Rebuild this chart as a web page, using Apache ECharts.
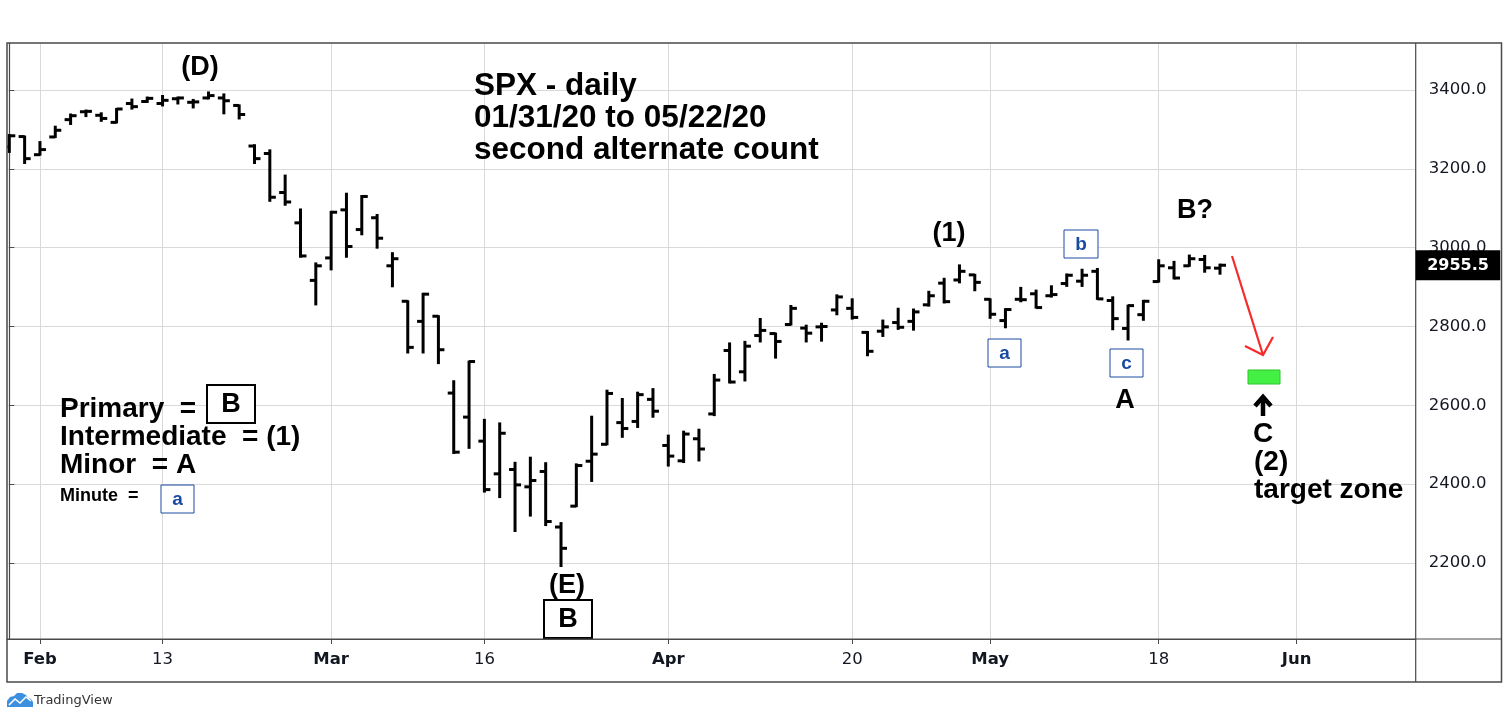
<!DOCTYPE html>
<html>
<head>
<meta charset="utf-8">
<script src="https://cdn.jsdelivr.net/npm/echarts@6/dist/echarts.min.js"></script>
<style>
html,body{margin:0;padding:0;background:#fff;}
#main{width:1508px;height:719px;}
</style>
</head>
<body>
<div id="main"></div>
<script type="text/javascript">
// trading days, index 0 = Jan 30
var dates = ['01/30','01/31','02/03','02/04','02/05','02/06','02/07','02/10','02/11','02/12','02/13','02/14',
  '02/18','02/19','02/20','02/21','02/24','02/25','02/26','02/27','02/28','03/02','03/03','03/04','03/05','03/06',
  '03/09','03/10','03/11','03/12','03/13','03/16','03/17','03/18','03/19','03/20','03/23','03/24','03/25','03/26',
  '03/27','03/30','03/31','04/01','04/02','04/03','04/06','04/07','04/08','04/09','04/13','04/14','04/15','04/16',
  '04/17','04/20','04/21','04/22','04/23','04/24','04/27','04/28','04/29','04/30','05/01','05/04','05/05','05/06',
  '05/07','05/08','05/11','05/12','05/13','05/14','05/15','05/18','05/19','05/20','05/21','05/22'];
var opens = [3256,3282,3236,3281,3325,3345,3336,3318,3366,3371,3366,3378,
  3369,3380,3380,3361,3258,3239,3140,3063,2917,2974,3096,3046,3076,2954,
  2864,2813,2826,2631,2570,2509,2426,2437,2393,2432,2291,2344,2458,2501,
  2556,2559,2615,2498,2459,2515,2578,2739,2685,2777,2782,2805,2796,2799,
  2842,2846,2785,2788,2810,2813,2855,2910,2918,2931,2869,2815,2869,2883,
  2878,2909,2915,2940,2866,2795,2830,2914,2949,2954,2970,2948];
var highs = [3286,3282,3268,3307,3338,3348,3341,3352,3376,3381,3385,3381,
  3375,3394,3389,3361,3260,3247,3183,3097,2960,3091,3137,3131,3083,2986,
  2864,2883,2826,2661,2711,2563,2554,2454,2467,2453,2301,2450,2571,2637,
  2616,2632,2641,2523,2533,2538,2677,2757,2761,2819,2782,2852,2802,2807,
  2879,2869,2786,2815,2845,2843,2888,2921,2955,2931,2869,2844,2898,2891,
  2902,2932,2944,2946,2874,2853,2865,2968,2964,2980,2979,2957];
var lows = [3243,3215,3236,3281,3314,3334,3322,3318,3353,3370,3361,3366,
  3356,3379,3341,3328,3215,3119,3109,2977,2856,2945,2977,3034,3000,2902,
  2734,2734,2707,2479,2492,2381,2367,2281,2320,2296,2192,2344,2408,2501,
  2520,2545,2571,2447,2456,2460,2575,2658,2663,2762,2721,2805,2762,2764,
  2831,2820,2727,2776,2794,2792,2853,2861,2912,2892,2822,2798,2864,2848,
  2876,2903,2903,2870,2793,2767,2817,2914,2922,2954,2939,2934];
var closes = [3284,3226,3249,3298,3335,3346,3328,3352,3358,3379,3374,3380,
  3370,3386,3373,3338,3226,3128,3116,2979,2954,3090,3003,3130,3024,2972,
  2747,2882,2741,2481,2711,2386,2529,2398,2409,2305,2237,2447,2476,2630,
  2541,2627,2585,2471,2527,2489,2664,2659,2750,2790,2762,2846,2783,2800,
  2875,2823,2737,2799,2798,2837,2878,2863,2940,2912,2831,2843,2868,2848,
  2881,2930,2930,2870,2820,2853,2864,2954,2923,2972,2949,2955.45];
var lastPrice = 2955.5;

// axis ticks
var xTickIdx = [2, 10, 21, 31, 43, 55, 64, 75, 84];
var xTickLabels = ['Feb', '13', 'Mar', '16', 'Apr', '20', 'May', '18', 'Jun'];
var monthNames = ['Feb', 'Mar', 'Apr', 'May', 'Jun'];
var yTicks = [2200, 2400, 2600, 2800, 3000, 3200, 3400];

var ohlc = [];
for (var i = 0; i < dates.length; i++) {
  ohlc.push([i, opens[i], highs[i], lows[i], closes[i]]);
}

function renderOHLC(params, api) {
  var x = api.value(0);
  var o = api.coord([x, api.value(1)]);
  var h = api.coord([x, api.value(2)]);
  var l = api.coord([x, api.value(3)]);
  var c = api.coord([x, api.value(4)]);
  var st = {stroke: '#000', lineWidth: 3};
  return {
    type: 'group',
    children: [
      {type: 'line', shape: {x1: h[0], y1: h[1] - 1, x2: l[0], y2: l[1] + 1}, style: st},
      {type: 'line', shape: {x1: o[0] - 6, y1: o[1], x2: o[0], y2: o[1]}, style: st},
      {type: 'line', shape: {x1: c[0], y1: c[1], x2: c[0] + 6, y2: c[1]}, style: st}
    ]
  };
}

var bold = 'Liberation Sans';
function txt(s, x, y, size, align, color) {
  return {type: 'text', x: x, y: y, z: 50,
    style: {text: s, font: 'bold ' + size + 'px "' + bold + '"', fill: color || '#000',
      align: align || 'left', verticalAlign: 'middle'}};
}
function boxTxt(s, x1, y1, x2, y2, size, color, lw) {
  return [
    {type: 'rect', z: 49, shape: {x: x1, y: y1, width: x2 - x1, height: y2 - y1},
      style: {fill: '#fff', stroke: color, lineWidth: lw}},
    txt(s, (x1 + x2) / 2, (y1 + y2) / 2 + 1, size, 'center', color)
  ];
}

var myChart = echarts.init(document.getElementById('main'));
var frame = '#4a4a4a';
var option = {
  animation: false,
  backgroundColor: '#fff',
  grid: {left: 7, right: 92.3, top: 43, bottom: 80},
  xAxis: {
    type: 'value',
    min: -0.15,
    max: 91.77,
    axisLine: {show: true, lineStyle: {color: frame, width: 1.2}},
    axisTick: {show: true, customValues: xTickIdx, length: 5, lineStyle: {color: frame}},
    splitLine: {show: true, lineStyle: {color: '#d9d9d9', width: 1}},
    axisLabel: {
      customValues: xTickIdx,
      margin: 12,
      color: '#131722',
      fontFamily: 'DejaVu Sans',
      fontSize: 16.5,
      formatter: function (v) {
        var s = xTickLabels[xTickIdx.indexOf(Math.round(v))];
        return monthNames.indexOf(s) >= 0 ? '{m|' + s + '}' : s;
      },
      rich: {m: {fontWeight: 'bold', fontFamily: 'DejaVu Sans', fontSize: 16.5, color: '#131722'}}
    }
  },
  yAxis: {
    type: 'value',
    position: 'right',
    min: 2006.8,
    max: 3519.5,
    axisLine: {show: true, lineStyle: {color: frame, width: 1.2}},
    axisTick: {show: true, customValues: yTicks, length: 5, lineStyle: {color: frame}},
    splitLine: {show: true, lineStyle: {color: '#d9d9d9', width: 1}},
    axisLabel: {
      customValues: yTicks,
      margin: 13,
      color: '#131722',
      fontFamily: 'DejaVu Sans',
      fontSize: 16.5,
      formatter: function (v) { return v.toFixed(1); }
    }
  },
  series: [{
    type: 'custom',
    renderItem: renderOHLC,
    data: ohlc,
    clip: true
  }]
};
myChart.setOption(option);

// annotations
var py = myChart.convertToPixel({yAxisIndex: 0}, closes[closes.length - 1]);
var g = [
  // frame
  {type: 'rect', z: 60, shape: {x: 7, y: 43, width: 1494.5, height: 639}, style: {fill: null, stroke: frame, lineWidth: 1.5}},
  {type: 'line', z: 60, shape: {x1: 1415.7, y1: 43, x2: 1415.7, y2: 682}, style: {stroke: frame, lineWidth: 1.2}},
  {type: 'line', z: 60, shape: {x1: 7, y1: 639, x2: 1501.5, y2: 639}, style: {stroke: frame, lineWidth: 1.2}},
  // last price tag
  {type: 'rect', z: 61, shape: {x: 1415.7, y: py - 15, width: 84.5, height: 30}, style: {fill: '#000'}},
  {type: 'text', z: 62, x: 1458, y: py + 1, style: {text: lastPrice.toFixed(1), font: 'bold 16px "DejaVu Sans"', fill: '#fff', align: 'center', verticalAlign: 'middle'}},
  // title
  txt('SPX - daily', 474, 86, 31.5),
  txt('01/31/20 to 05/22/20', 474, 118, 31.5),
  txt('second alternate count', 474, 150, 31.5),
  // wave labels
  txt('(D)', 200, 68, 27, 'center'),
  txt('(1)', 949, 234, 27, 'center'),
  txt('B?', 1195, 211, 27, 'center'),
  txt('(E)', 567, 586, 27, 'center'),
  txt('A', 1125, 401, 27, 'center'),
  // legend of degrees
  txt('Primary  =', 60, 409, 28),
  txt('Intermediate  = (1)', 60, 437, 28),
  txt('Minor  = A', 60, 465, 28),
  txt('Minute  =', 60, 496, 18),
  // target zone
  txt('C', 1263, 434, 28, 'center'),
  txt('(2)', 1254, 462, 28),
  txt('target zone', 1254, 490, 28),
  {type: 'rect', z: 48, shape: {x: 1248, y: 370, width: 32, height: 14}, style: {fill: '#44f044', stroke: '#2fc52f', lineWidth: 1}},
  {type: 'polyline', z: 48, shape: {points: [[1232, 256], [1263, 355]]}, style: {stroke: '#f52a2a', lineWidth: 2.2}},
  {type: 'polyline', z: 48, shape: {points: [[1245, 346], [1263, 355], [1273, 337]]}, style: {stroke: '#f52a2a', lineWidth: 2.2, fill: null}},
  {type: 'polyline', z: 48, shape: {points: [[1263, 416], [1263, 398]]}, style: {stroke: '#000', lineWidth: 4.5}},
  {type: 'polyline', z: 48, shape: {points: [[1255, 406], [1263, 397], [1271, 406]]}, style: {stroke: '#000', lineWidth: 4.5, fill: null}},
  // TradingView mark
  {type: 'polygon', z: 48, shape: {points: [[7, 707], [7, 701], [10, 697], [14, 696], [17, 693], [22, 693], [26, 695], [28, 698], [31, 699], [33, 702], [33, 707]]}, style: {fill: '#3d8fe0'}},
  {type: 'polyline', z: 49, shape: {points: [[9, 705], [15, 699], [20, 703], [26, 697], [31, 701]]}, style: {stroke: '#fff', lineWidth: 1.6, fill: null}},
  {type: 'text', z: 48, x: 34, y: 701, style: {text: 'TradingView', font: '13px "DejaVu Sans"', fill: '#333', verticalAlign: 'middle'}}
];
g = g.concat(boxTxt('B', 207, 385, 255, 423, 27, '#000', 2));
g = g.concat(boxTxt('B', 544, 600, 592, 638, 27, '#000', 2));
g = g.concat(boxTxt('a', 161, 485, 194, 513, 19, '#1a4aa0', 1));
g = g.concat(boxTxt('a', 988, 339, 1021, 367, 19, '#1a4aa0', 1));
g = g.concat(boxTxt('b', 1064, 230, 1098, 258, 19, '#1a4aa0', 1));
g = g.concat(boxTxt('c', 1110, 349, 1143, 377, 19, '#1a4aa0', 1));
myChart.setOption({graphic: g});
</script>
</body>
</html>
